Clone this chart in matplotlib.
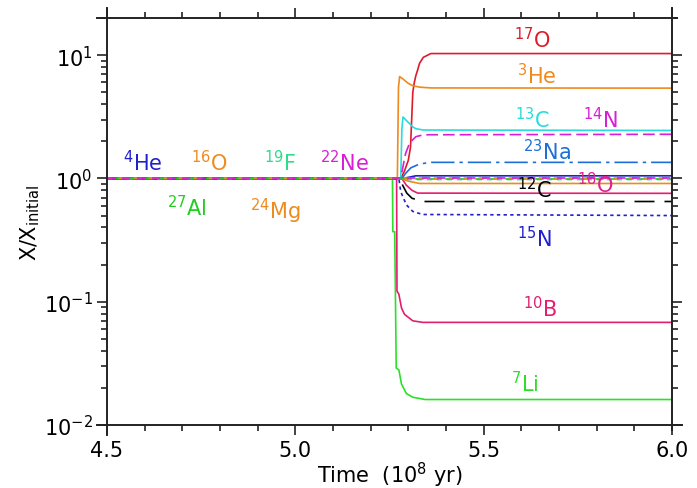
import matplotlib
matplotlib.use("Agg")
import matplotlib.pyplot as plt
from matplotlib.ticker import MultipleLocator, FormatStrFormatter, LogLocator, NullFormatter

# Abundance ratios X/X_initial (time in 1e8 yr)
t_17O = [4.5, 5.280, 5.290, 5.300, 5.306, 5.309, 5.312, 5.316, 5.320, 5.325, 5.330, 5.340, 5.360, 6.0]
x_17O = [1.0, 1.0, 1.15, 1.4, 1.8, 3.0, 5.0, 6.0, 6.8, 7.6, 8.6, 9.6, 10.3, 10.3]

t_3He = [4.5, 5.271, 5.274, 5.277, 5.286, 5.300, 5.312, 5.330, 5.360, 6.0]
x_3He = [1.0, 1.0, 5.5, 6.7, 6.4, 5.9, 5.65, 5.5, 5.42, 5.4]

t_13C = [4.5, 5.280, 5.283, 5.286, 5.295, 5.312, 5.320, 5.340, 6.0]
x_13C = [1.0, 1.0, 2.5, 3.15, 2.95, 2.62, 2.53, 2.47, 2.45]

t_14N = [4.5, 5.280, 5.286, 5.293, 5.304, 5.320, 5.340, 6.0]
x_14N = [1.0, 1.0, 1.25, 1.6, 1.95, 2.18, 2.26, 2.28]

t_23Na = [4.5, 5.283, 5.293, 5.307, 5.330, 5.360, 6.0]
x_23Na = [1.0, 1.0, 1.1, 1.22, 1.31, 1.35, 1.35]

t_4He = [4.5, 5.285, 5.300, 5.320, 6.0]
x_4He = [1.0, 1.0, 1.02, 1.05, 1.05]

t_19F = [4.5, 5.280, 5.300, 6.0]
x_19F = [1.0, 1.0, 0.98, 0.98]

t_27Al = [4.5, 5.280, 5.300, 6.0]
x_27Al = [1.0, 1.0, 0.99, 0.99]

t_16O = [4.5, 5.280, 5.300, 5.330, 6.0]
x_16O = [1.0, 1.0, 0.95, 0.91, 0.91]

t_24Mg = [4.5, 6.0]
x_24Mg = [1.0, 1.0]

t_22Ne = [4.5, 6.0]
x_22Ne = [1.0, 1.0]

t_18O = [4.5, 5.283, 5.295, 5.310, 5.325, 6.0]
x_18O = [1.0, 1.0, 0.88, 0.80, 0.76, 0.757]

t_12C = [4.5, 5.280, 5.285, 5.296, 5.310, 5.340, 6.0]
x_12C = [1.0, 1.0, 0.88, 0.76, 0.69, 0.65, 0.65]

t_15N = [4.5, 5.275, 5.280, 5.295, 5.312, 5.338, 6.0]
x_15N = [1.0, 1.0, 0.78, 0.61, 0.54, 0.51, 0.50]

t_10B = [4.5, 5.269, 5.270, 5.275, 5.282, 5.290, 5.312, 5.338, 6.0]
x_10B = [1.0, 1.0, 0.122, 0.115, 0.089, 0.079, 0.070, 0.068, 0.068]

t_7Li = [4.5, 5.258, 5.259, 5.264, 5.268, 5.275, 5.282, 5.295, 5.312, 5.345, 6.0]
x_7Li = [1.0, 1.0, 0.37, 0.37, 0.029, 0.028, 0.0215, 0.018, 0.0168, 0.0161, 0.0161]

# colours
red = "#DD1C2A"
orange = "#EE8A1E"
cyan = "#28DCDC"
magenta = "#D81ED6"
skyblue = "#1C6FD8"
blue = "#2020CC"
pink = "#E41E6E"
lime = "#2BE02B"
green = "#22CC22"
spring = "#2EDC8C"

plt.rcParams['font.family'] = ['DejaVu Sans']

fig = plt.figure(figsize=(6.97, 4.89), dpi=100)
ax = fig.add_axes([0.1535, 0.1288, 0.8105, 0.8323])

lw = 1.2
# solid ones first, dashed flat ones last so the x=1 line looks mixed
ax.plot(t_7Li, x_7Li, color=lime, lw=lw)
ax.plot(t_10B, x_10B, color=pink, lw=lw)
ax.plot(t_17O, x_17O, color=red, lw=lw)
ax.plot(t_3He, x_3He, color=orange, lw=lw)
ax.plot(t_13C, x_13C, color=cyan, lw=lw)
ax.plot(t_18O, x_18O, color=pink, lw=lw)
ax.plot(t_16O, x_16O, color=orange, lw=lw)
ax.plot(t_4He, x_4He, color=blue, lw=lw)
ax.plot(t_15N, x_15N, color=blue, lw=lw, ls=(0, (2, 2)))
ax.plot(t_12C, x_12C, color="black", lw=lw, ls=(0, (12, 6)))
ax.plot(t_23Na, x_23Na, color=skyblue, lw=lw, ls=(0, (14, 3, 2, 3)))
ax.plot(t_14N, x_14N, color=magenta, lw=lw, ls=(0, (7, 3)))
ax.plot(t_19F, x_19F, color=spring, lw=lw, ls=(6, (3, 3)))
ax.plot(t_27Al, x_27Al, color=green, lw=lw, ls=(4, (5, 4)))
ax.plot(t_24Mg, x_24Mg, color=orange, lw=lw, ls=(2, (5, 4)))
ax.plot(t_22Ne, x_22Ne, color=magenta, lw=lw, ls=(0, (5, 4)))

ax.set_yscale("log")
ax.set_xlim(4.5, 6.0)
ax.set_ylim(0.01, 20)

# isotope labels
fs = 15
def lab(x, y, iso, el, c):
    ax.text(x, y, r"$^{\mathregular{" + iso + "}}$" + el, color=c, fontsize=fs,
            ha="center", va="center")

lab(5.63, 13.5, "17", "O", red)
lab(5.64, 6.9, "3", "He", orange)
lab(5.63, 3.05, "13", "C", cyan)
lab(5.81, 3.05, "14", "N", magenta)
lab(5.667, 1.68, "23", "Na", skyblue)
lab(5.797, 0.91, "18", "O", "#E0208C")
lab(5.635, 0.83, "12", "C", "black")
lab(5.635, 0.33, "15", "N", blue)
lab(5.65, 0.089, "10", "B", pink)
lab(5.61, 0.022, "7", "Li", lime)
lab(4.595, 1.37, "4", "He", blue)
lab(4.773, 1.37, "16", "O", orange)
lab(4.959, 1.37, "19", "F", spring)
lab(5.131, 1.37, "22", "Ne", magenta)
lab(4.712, 0.59, "27", "Al", green)
lab(4.946, 0.55, "24", "Mg", orange)

# axes / ticks
ax.xaxis.set_major_locator(MultipleLocator(0.5))
ax.xaxis.set_minor_locator(MultipleLocator(0.1))
ax.xaxis.set_major_formatter(FormatStrFormatter("%.1f"))
ax.yaxis.set_major_locator(LogLocator(base=10))
ax.yaxis.set_minor_locator(LogLocator(base=10, subs=range(2, 10)))
ax.yaxis.set_minor_formatter(NullFormatter())
ax.tick_params(which="both", direction="out", top=True, right=True,
               labelsize=15, width=1.2, color="#222222")
ax.tick_params(which="major", length=7)
ax.tick_params(which="minor", length=4.5)

for s in ax.spines.values():
    s.set_visible(False)
# axis lines that run a little past the corners
ex = 10 / 565
ey = 10 / 407
kw = dict(transform=ax.transAxes, clip_on=False, color="#222222", lw=1.4)
ax.plot([-ex, 1 + ex], [0, 0], **kw)
ax.plot([-ex, 1 + ex * 0.5], [1, 1], **kw)
ax.plot([0, 0], [-ey, 1 + ey], **kw)
ax.plot([1, 1], [-ey * 0.5, 1 + ey], **kw)

ax.set_xlabel(r"Time  (10$^{\mathregular{8}}$ yr)", fontsize=15, labelpad=0)
ax.set_ylabel(r"X/X$_{\mathregular{initial}}$", fontsize=15, labelpad=1)

fig.savefig("out.png", dpi=100)
